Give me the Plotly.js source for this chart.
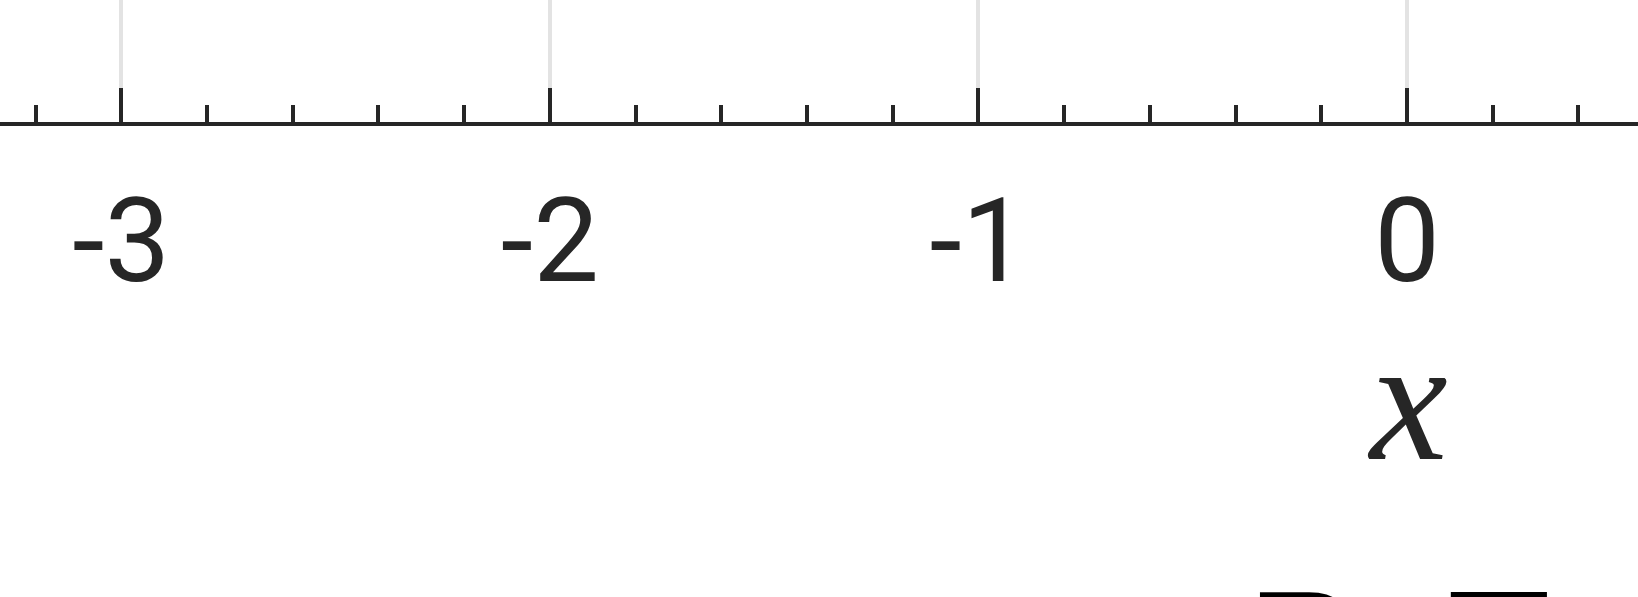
<!DOCTYPE html>
<html>
<head>
<meta charset="utf-8">
<script src="https://cdn.plot.ly/plotly-3.0.1.min.js"></script>
<style>html,body{margin:0;padding:0;background:#fff;overflow:hidden;}</style>
</head>
<body>
<div id="chart" style="width:1638px;height:597px;"></div>
<script>
// Axis values
const xRange = [-3.283, 0.539];
const tickVals = [-3, -2, -1, 0];
const tickText = ['-3', '-2', '-1', '0'];
const minorStep = 0.2;
const xTitle = 'x';
const bottomLabels = ['P', 'T'];
const bottomLabelX = [1302, 1499];

const ink = '#262626';
const layout = {
  width: 1638, height: 597,
  margin: {l: 0, r: 0, t: 0, b: 475, pad: 0},
  paper_bgcolor: '#ffffff', plot_bgcolor: '#ffffff',
  showlegend: false,
  xaxis: {
    range: xRange, fixedrange: true,
    tickmode: 'array', tickvals: tickVals, ticktext: tickText,
    ticks: 'inside', ticklen: 34, tickwidth: 4, tickcolor: ink,
    minor: {tickmode: 'linear', tick0: 0, dtick: minorStep, ticks: 'inside', ticklen: 17, tickwidth: 4, tickcolor: ink, showgrid: false},
    showline: true, linewidth: 4, linecolor: ink,
    showgrid: true, gridcolor: '#e3e3e3', gridwidth: 4,
    zeroline: false,
    tickfont: {family: 'Roboto, Arial, sans-serif', size: 117, color: ink},
    ticklabelstandoff: 15
  },
  yaxis: {range: [0, 1], visible: false, fixedrange: true, showgrid: false, zeroline: false},
  annotations: [
    {text: xTitle, xref: 'x', x: 0, yref: 'paper', y: -2.28, xanchor: 'center', yanchor: 'middle', showarrow: false,
     font: {family: 'Liberation Serif, Times New Roman, serif', size: 175, color: ink, style: 'italic'}}
  ].concat(bottomLabels.map((t, i) => ({
     text: t, xref: 'paper', x: bottomLabelX[i] / 1638, yref: 'paper', y: -3.543, xanchor: 'center', yanchor: 'top', showarrow: false,
     font: {family: 'Liberation Sans, Arial, sans-serif', size: 170, color: '#000000'}
  })))
};
Plotly.newPlot('chart', [], layout, {displayModeBar: false, staticPlot: true});
</script>
</body>
</html>
